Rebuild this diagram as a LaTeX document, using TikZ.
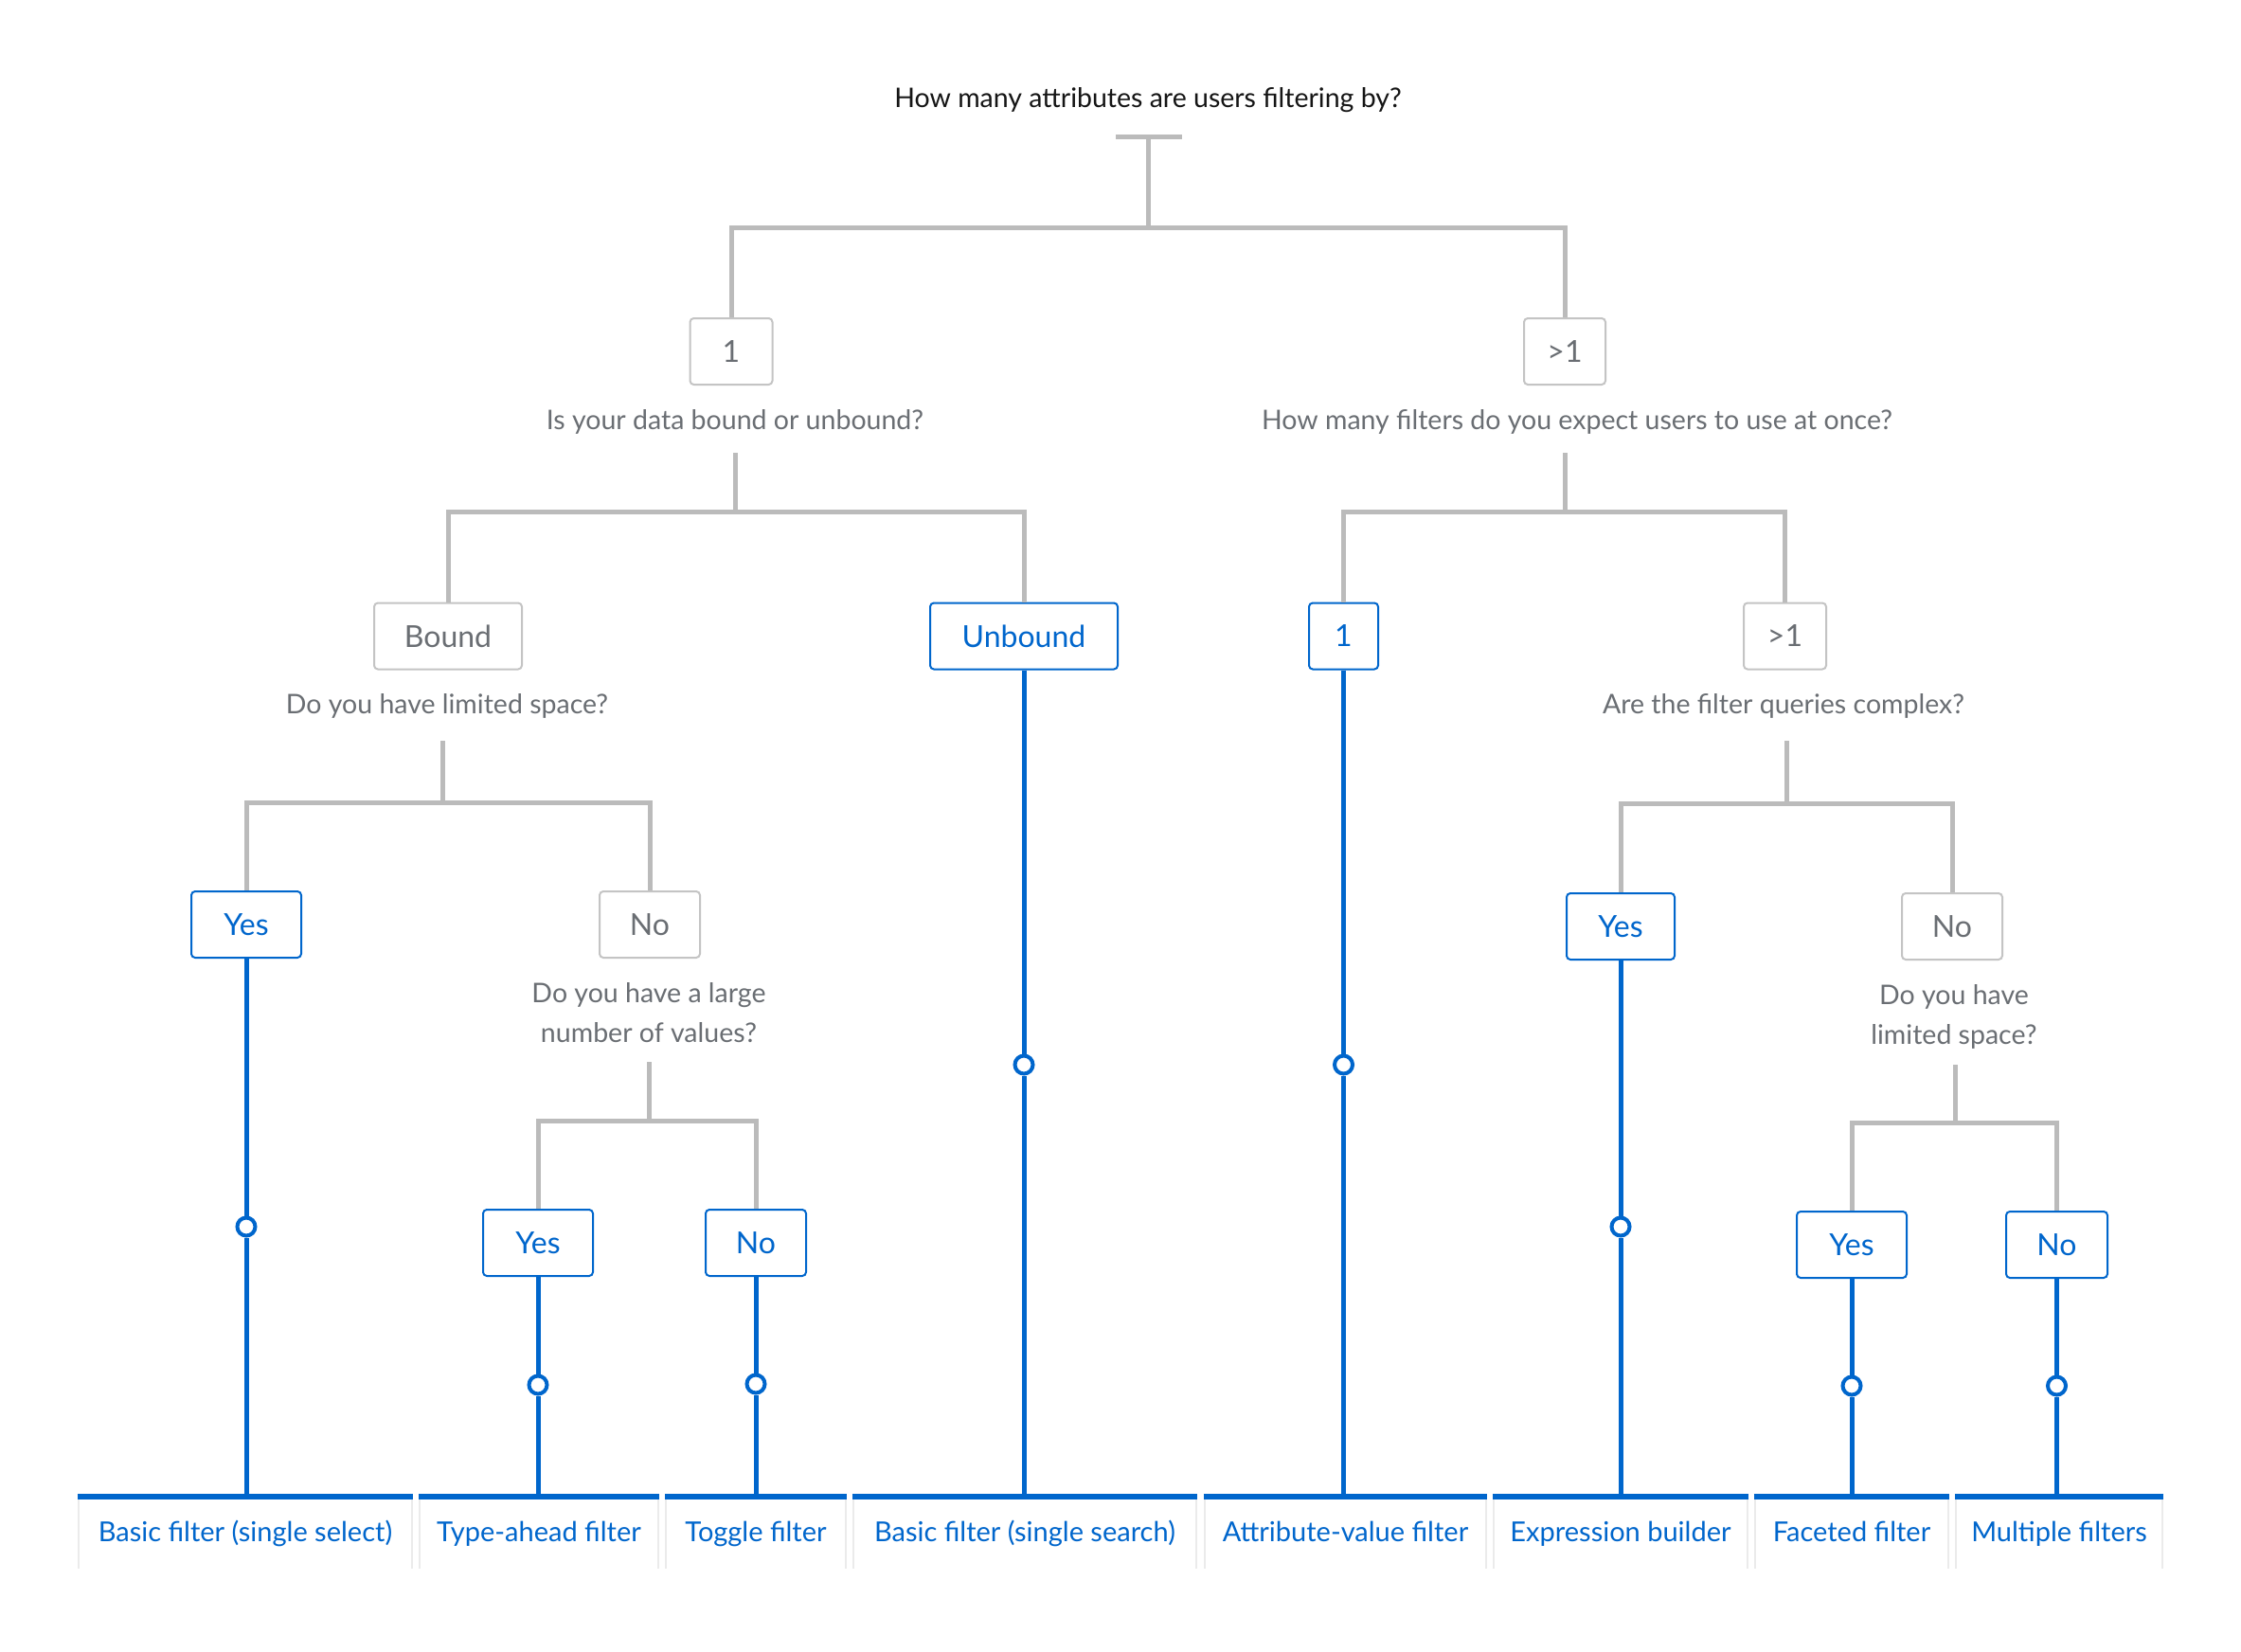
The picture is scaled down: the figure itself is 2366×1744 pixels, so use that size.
\documentclass[tikz,border=0pt]{standalone}
\usepackage{fontspec}
\setmainfont{Lato}
\definecolor{lgray}{HTML}{BBBBBB}
\definecolor{bgray}{HTML}{C4C4C4}
\definecolor{tgray}{HTML}{6A6E73}
\definecolor{tdark}{HTML}{151515}
\definecolor{pfblue}{HTML}{0066CC}
\definecolor{colside}{HTML}{EBEBEB}
\newcommand{\qfont}{\fontsize{28.5}{42}\selectfont}
\newcommand{\bxfont}{\fontsize{32}{38}\selectfont}
\newcommand{\clfont}{\fontsize{29}{34}\selectfont}
\tikzset{
  qtext/.style={text=tgray, font=\qfont, align=center, inner sep=0pt},
  qone/.style={qtext, text height=28pt, text depth=6pt},
  gbox/.style={draw=bgray, line width=2pt, rounded corners=4pt, text=tgray, font=\bxfont, minimum height=70pt, inner sep=0pt},
  bbox/.style={draw=pfblue, line width=2pt, rounded corners=4pt, text=pfblue, font=\bxfont, minimum height=70pt, inner sep=0pt},
  gline/.style={draw=lgray, line width=5pt},
  bline/.style={draw=pfblue, line width=5pt},
  odot/.style={circle, draw=pfblue, line width=4pt, fill=white, minimum size=19pt, inner sep=0pt},
  colnode/.style={text=pfblue, font=\clfont, minimum height=76pt, inner sep=0pt},
  coltext/.style={text=pfblue, font=\clfont, inner sep=0pt, text height=25pt, text depth=6pt},
  colbar/.style={draw=pfblue, line width=6pt},
  colsides/.style={draw=colside, line width=2pt},
}
\begin{document}
\begin{tikzpicture}[x=1pt, y=-1pt]
\useasboundingbox (0,0) rectangle (2366,1744);
\fill[white] (0,0) rectangle (2366,1744);

% questions
\node[qone, text=tdark] (q0) at (1212,103) {How many attributes are users filtering by?};
\node[qone] (q1L) at (776,442) {Is your data bound or unbound?};
\node[qone] (q1R) at (1665,442) {How many filters do you expect users to use at once?};
\node[qone] (q2L) at (472,742) {Do you have limited space?};
\node[qone] (q2R) at (1883,742) {Are the filter queries complex?};
\node[qtext] (q3L) at (685,1069) {Do you have a large\\number of values?};
\node[qtext] (q3R) at (2063,1073) {Do you have\\limited space?};

% boxes
\node[gbox, minimum width=87pt] (b1) at (772,371) {1};
\node[gbox, minimum width=86pt] (b2) at (1652,371) {>1};
\node[gbox, minimum width=156pt] (bound) at (473,671.5) {Bound};
\node[bbox, minimum width=198pt] (unbound) at (1081,671.5) {Unbound};
\node[bbox, minimum width=73pt] (one) at (1418.5,671.5) {1};
\node[gbox, minimum width=87pt] (more) at (1884.5,671.5) {>1};
\node[bbox, minimum width=116pt] (yesA) at (260,976) {Yes};
\node[gbox, minimum width=106pt] (noA) at (686,976) {No};
\node[bbox, minimum width=114pt] (yesB) at (1711,978) {Yes};
\node[gbox, minimum width=106pt] (noB) at (2061,978) {No};
\node[bbox, minimum width=116pt] (yesC) at (568,1312) {Yes};
\node[bbox, minimum width=106pt] (noC) at (798,1312) {No};
\node[bbox, minimum width=116pt] (yesD) at (1955,1314) {Yes};
\node[bbox, minimum width=107pt] (noD) at (2171.5,1314) {No};

% coordinates for gray tree
\coordinate (t0l) at (1178,145);
\coordinate (t0r) at (1248,145);
\coordinate (s0) at (1212,145);
\coordinate (j0) at (1212,241);
\coordinate (s1L) at (776,478);
\coordinate (j1L) at (776,540);
\coordinate (s1R) at (1652,478);
\coordinate (j1R) at (1652,540);
\coordinate (s2L) at (467,782);
\coordinate (j2L) at (467,847);
\coordinate (s2R) at (1886,782);
\coordinate (j2R) at (1886,848);
\coordinate (s3L) at (685,1121);
\coordinate (j3L) at (685,1183);
\coordinate (s3R) at (2064,1124);
\coordinate (j3R) at (2064,1185);

\draw[gline] (t0l) -- (t0r);
\draw[gline] (s0) -- (j0);
\draw[gline] (j0) -| (b1.north);
\draw[gline] (j0) -| (b2.north);
\draw[gline] (s1L) -- (j1L);
\draw[gline] (j1L) -| (bound.north);
\draw[gline] (j1L) -| (unbound.north);
\draw[gline] (s1R) -- (j1R);
\draw[gline] (j1R) -| (one.north);
\draw[gline] (j1R) -| (more.north);
\draw[gline] (s2L) -- (j2L);
\draw[gline] (j2L) -| (yesA.north);
\draw[gline] (j2L) -| (noA.north);
\draw[gline] (s2R) -- (j2R);
\draw[gline] (j2R) -| (yesB.north);
\draw[gline] (j2R) -| (noB.north);
\draw[gline] (s3L) -- (j3L);
\draw[gline] (j3L) -| (yesC.north);
\draw[gline] (j3L) -| (noC.north);
\draw[gline] (s3R) -- (j3R);
\draw[gline] (j3R) -| (yesD.north);
\draw[gline] (j3R) -| (noD.north);

% result columns
\node[colnode, minimum width=354pt] (c1) at (259,1618) {};
\node[colnode, minimum width=254pt] (c2) at (569,1618) {};
\node[colnode, minimum width=192pt] (c3) at (798,1618) {};
\node[colnode, minimum width=364pt] (c4) at (1082,1618) {};
\node[colnode, minimum width=299pt] (c5) at (1420.5,1618) {};
\node[colnode, minimum width=270pt] (c6) at (1711,1618) {};
\node[colnode, minimum width=206pt] (c7) at (1955,1618) {};
\node[colnode, minimum width=220pt] (c8) at (2174,1618) {};
\node[coltext] (l1) at (c1) {Basic filter (single select)};
\node[coltext] (l2) at (c2) {Type-ahead filter};
\node[coltext] (l3) at (c3) {Toggle filter};
\node[coltext] (l4) at (c4) {Basic filter (single search)};
\node[coltext] (l5) at (c5) {Attribute-value filter};
\node[coltext] (l6) at (c6) {Expression builder};
\node[coltext] (l7) at (c7) {Faceted filter};
\node[coltext] (l8) at (c8) {Multiple filters};
\foreach \c in {c1,c2,c3,c4,c5,c6,c7,c8}{
  \draw[colsides] ([xshift=1pt]\c.north west) -- ([xshift=1pt]\c.south west);
  \draw[colsides] ([xshift=-1pt]\c.north east) -- ([xshift=-1pt]\c.south east);
  \draw[colbar] (\c.north west) -- (\c.north east);
}

% dots
\node[odot] (dA) at (260,1295) {};
\node[odot] (dU) at (1081,1124) {};
\node[odot] (dO) at (1418.5,1124) {};
\node[odot] (dE) at (1711,1295) {};
\node[odot] (dT) at (568,1462) {};
\node[odot] (dG) at (798,1461) {};
\node[odot] (dF) at (1955,1463) {};
\node[odot] (dM) at (2171.5,1463) {};

% blue paths
\draw[bline] (yesA.south) -- (dA.north);
\draw[bline] (dA.south) -- (dA.south |- c1.north);
\draw[bline] (unbound.south) -- (dU.north);
\draw[bline] (dU.south) -- (dU.south |- c4.north);
\draw[bline] (one.south) -- (dO.north);
\draw[bline] (dO.south) -- (dO.south |- c5.north);
\draw[bline] (yesB.south) -- (dE.north);
\draw[bline] (dE.south) -- (dE.south |- c6.north);
\draw[bline] (yesC.south) -- (dT.north);
\draw[bline] (dT.south) -- (dT.south |- c2.north);
\draw[bline] (noC.south) -- (dG.north);
\draw[bline] (dG.south) -- (dG.south |- c3.north);
\draw[bline] (yesD.south) -- (dF.north);
\draw[bline] (dF.south) -- (dF.south |- c7.north);
\draw[bline] (noD.south) -- (dM.north);
\draw[bline] (dM.south) -- (dM.south |- c8.north);
\end{tikzpicture}
\end{document}
